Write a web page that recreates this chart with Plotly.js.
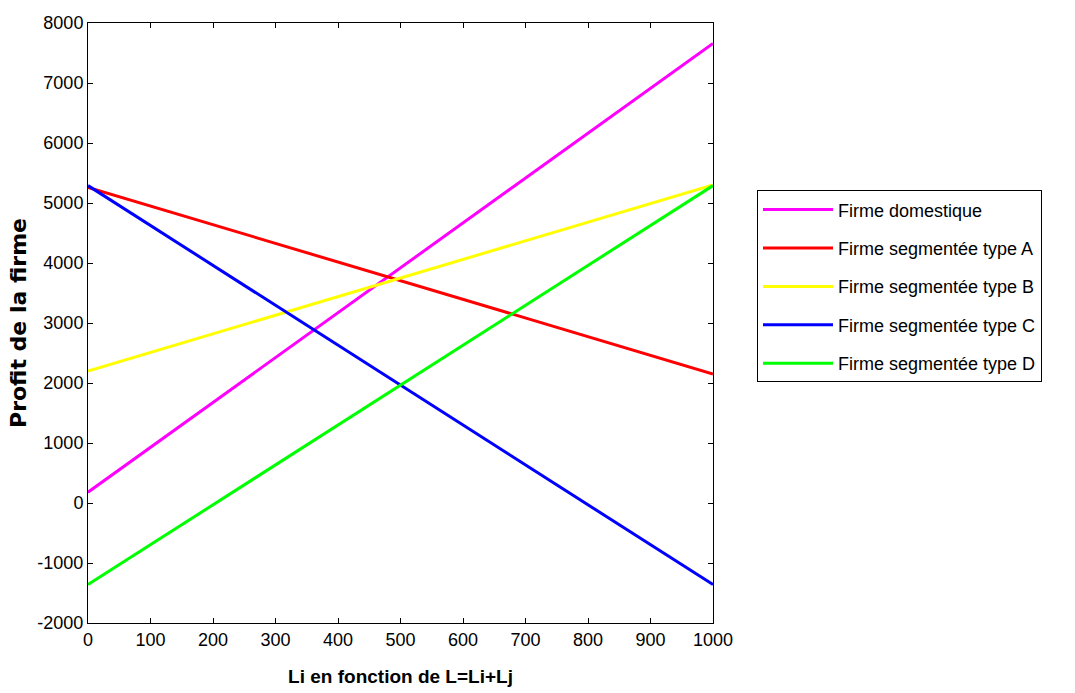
<!DOCTYPE html>
<html>
<head>
<meta charset="utf-8">
<script src="https://cdn.plot.ly/plotly-3.0.1.min.js"></script>
<style>html,body{margin:0;padding:0;background:#fff;}#chart{width:1075px;height:693px;}</style>
</head>
<body>
<div id="chart"></div>
<script>
// Data
const L = [0, 1000];
const seriesNames = [
  "Firme domestique",
  "Firme segmentée type A",
  "Firme segmentée type B",
  "Firme segmentée type C",
  "Firme segmentée type D"
];
const domestique = [180, 7660];
const typeA = [5260, 2150];
const typeB = [2200, 5300];
const typeC = [5290, -1360];
const typeD = [-1360, 5290];
const xTicks = [0, 100, 200, 300, 400, 500, 600, 700, 800, 900, 1000];
const yTicks = [-2000, -1000, 0, 1000, 2000, 3000, 4000, 5000, 6000, 7000, 8000];

const colors = ["#ff00ff", "#ff0000", "#ffff00", "#0000ff", "#00ff00"];
const allY = [domestique, typeA, typeB, typeC, typeD];

const sans = "Liberation Sans, Arial, sans-serif";

const traces = allY.map((y, i) => ({
  x: L, y: y, type: "scatter", mode: "lines", name: seriesNames[i],
  legendgroup: "g" + i,
  line: {color: colors[i], width: 3}
}));

const axisCommon = {
  showline: true, linecolor: "#000", linewidth: 1, mirror: "allticks",
  ticks: "inside", ticklen: 5, tickcolor: "#000", tickwidth: 1,
  showgrid: false, zeroline: false,
  tickfont: {family: sans, size: 18, color: "#000"}
};

const layout = {
  width: 1075, height: 693,
  margin: {l: 88, r: 362, t: 23, b: 70},
  paper_bgcolor: "#fff", plot_bgcolor: "#fff",
  xaxis: Object.assign({}, axisCommon, {
    range: [0, 1000], tickvals: xTicks, ticktext: xTicks.map(String),
    title: {text: "<b>Li en fonction de L=Li+Lj</b>", font: {family: sans, size: 19, color: "#000"}, standoff: 21}
  }),
  yaxis: Object.assign({}, axisCommon, {
    range: [-2000, 8000], tickvals: yTicks, ticktext: yTicks.map(String),
    title: {text: "<b>Profit de la firme</b>", font: {family: "DejaVu Sans, sans-serif", size: 22, color: "#000"}, standoff: 4}
  }),
  showlegend: true,
  legend: {
    x: 1.0704, xanchor: "left", y: 0.721, yanchor: "top",
    bordercolor: "#000", borderwidth: 1, bgcolor: "#fff",
    font: {family: sans, size: 18, color: "#000"},
    tracegroupgap: 12, itemwidth: 70
  }
};

Plotly.newPlot("chart", traces, layout, {displayModeBar: false, staticPlot: true});
</script>
</body>
</html>
